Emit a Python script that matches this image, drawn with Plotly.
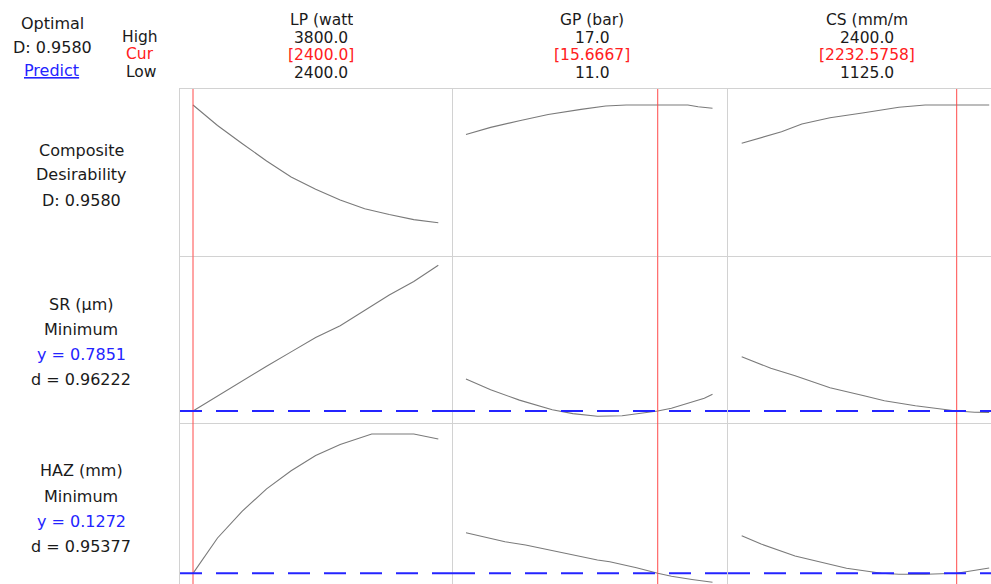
import plotly.graph_objects as go
from plotly.subplots import make_subplots

W, H = 991, 584

# ---- factor settings -------------------------------------------------------
factor_names = ["LP (watt", "GP (bar)", "CS (mm/m"]
high_labels = ["3800.0", "17.0", "2400.0"]
cur_labels = ["[2400.0]", "[15.6667]", "[2232.5758]"]
low_labels = ["2400.0", "11.0", "1125.0"]
cur_values = [2400.0, 15.6667, 2232.5758]

# ---- composite desirability traces ----------------------------------------
lp_for_D = [2400, 2540, 2680, 2820, 2960, 3100, 3240, 3380, 3520, 3660, 3800]
D_vs_lp = [0.958, 0.841, 0.738, 0.638, 0.547, 0.476, 0.415, 0.365, 0.332, 0.303, 0.285]
gp_for_D = [11.0, 11.6, 12.3, 13.0, 13.8, 14.4, 14.9, 15.6667, 16.4, 16.65, 17.0]
D_vs_gp = [0.789, 0.830, 0.868, 0.904, 0.933, 0.952, 0.958, 0.958, 0.958, 0.948, 0.939]
cs_for_D = [1125, 1225, 1330, 1435, 1580, 1755, 1935, 2070, 2232.5758, 2400]
D_vs_cs = [0.739, 0.771, 0.805, 0.849, 0.885, 0.914, 0.945, 0.958, 0.958, 0.958]

# ---- SR (um) traces --------------------------------------------------------
lp_for_SR = [2400, 2540, 2680, 2820, 2960, 3100, 3240, 3380, 3520, 3660, 3800]
SR_vs_lp = [0.7851, 0.974, 1.156, 1.344, 1.524, 1.703, 1.850, 2.043, 2.235, 2.403, 2.608]
gp_for_SR = [11.0, 11.6, 12.3, 13.1, 13.6, 14.2, 14.8, 15.6667, 16.0, 16.5, 16.8, 17.0]
SR_vs_gp = [1.185, 1.050, 0.921, 0.800, 0.752, 0.720, 0.726, 0.7851, 0.820, 0.902, 0.944, 0.994]
cs_for_SR = [1125, 1275, 1400, 1580, 1755, 1860, 2020, 2165, 2232.5758, 2325, 2400]
SR_vs_cs = [1.464, 1.319, 1.226, 1.076, 0.976, 0.914, 0.851, 0.800, 0.7851, 0.770, 0.768]

# ---- HAZ (mm) traces -------------------------------------------------------
lp_for_HAZ = [2400, 2540, 2680, 2820, 2960, 3100, 3240, 3380, 3420, 3660, 3800]
HAZ_vs_lp = [0.1272, 0.2155, 0.2822, 0.3382, 0.3837, 0.4217, 0.4495, 0.4700, 0.4755, 0.4755, 0.4630]
gp_for_HAZ = [11.0, 11.95, 12.45, 13.1, 13.55, 14.2, 14.5, 15.15, 15.6667, 16.0, 16.5, 17.0]
HAZ_vs_gp = [0.2287, 0.2062, 0.1980, 0.1840, 0.1755, 0.1605, 0.1560, 0.1412, 0.1272, 0.1197, 0.1117, 0.1047]
cs_for_HAZ = [1125, 1225, 1400, 1580, 1665, 1845, 1935, 2075, 2232.5758, 2400]
HAZ_vs_cs = [0.2212, 0.2005, 0.1705, 0.1505, 0.1397, 0.1272, 0.1247, 0.1247, 0.1272, 0.1405]

# ---- response summaries ----------------------------------------------------
optimal_D = "0.9580"
response_names = ["SR (µm)", "HAZ (mm)"]
response_goals = ["Minimum", "Minimum"]
response_y = [0.7851, 0.1272]
response_y_labels = ["0.7851", "0.1272"]
response_d_labels = ["0.96222", "0.95377"]

rows = [
    [(lp_for_D, D_vs_lp), (gp_for_D, D_vs_gp), (cs_for_D, D_vs_cs)],
    [(lp_for_SR, SR_vs_lp), (gp_for_SR, SR_vs_gp), (cs_for_SR, SR_vs_cs)],
    [(lp_for_HAZ, HAZ_vs_lp), (gp_for_HAZ, HAZ_vs_gp), (cs_for_HAZ, HAZ_vs_cs)],
]

# panel geometry (pixels of the 991 x 584 page)
col_px = [(180, 453), (453, 728), (728, 991)]
row_px = [(89, 256.5), (256.5, 424), (424, 584)]
x_ranges = [[2325.8, 3883.9], [10.684, 17.377], [1054.4, 2409.3]]
y_ranges = [[0.0923, 1.0494], [0.6226, 2.7164], [0.1005, 0.5005]]

BORDER = "#d2d2d2"
CURVE = "#7a7a7a"
RED = "#ff4a4a"
BLUE = "#2424ff"
TEXT = "#1a1a1a"
FONT = "DejaVu Sans"

fig = make_subplots(rows=3, cols=3, horizontal_spacing=0, vertical_spacing=0)

for r in range(3):
    for c in range(3):
        xs, ys = rows[r][c]
        fig.add_trace(
            go.Scatter(x=xs, y=ys, mode="lines",
                       line=dict(color=CURVE, width=1.1),
                       hoverinfo="skip", showlegend=False),
            row=r + 1, col=c + 1)
        fig.update_xaxes(
            domain=[col_px[c][0] / W, col_px[c][1] / W],
            range=x_ranges[c], showgrid=False, zeroline=False,
            showticklabels=False, ticks="", side="top",
            showline=True, linecolor=BORDER, linewidth=1,
            row=r + 1, col=c + 1)
        fig.update_yaxes(
            domain=[1 - row_px[r][1] / H, 1 - row_px[r][0] / H],
            range=y_ranges[r], showgrid=False, zeroline=False,
            showticklabels=False, ticks="", side="left",
            showline=True, linecolor=BORDER, linewidth=1,
            row=r + 1, col=c + 1)
        # current factor setting
        fig.add_vline(x=cur_values[c], line=dict(color=RED, width=1),
                      row=r + 1, col=c + 1)

# predicted response at the optimum
for i, yv in enumerate(response_y):
    for c in range(3):
        fig.add_hline(y=yv, line=dict(color=BLUE, width=2, dash="22px,14px"),
                      row=i + 2, col=c + 1)


def label(text, x_px, y_px, color=TEXT, size=16, box_h=None):
    fig.add_annotation(text=text, x=x_px / W, y=1 - y_px / H,
                       xref="paper", yref="paper", showarrow=False,
                       xanchor="center", yanchor="middle", borderpad=0,
                       height=box_h,
                       font=dict(family=FONT, size=size, color=color))


# top-left block
label("Optimal", 52, 24)
label("D: " + optimal_D, 52, 47)
label('<span style="text-decoration:underline">Predict</span>', 51, 70, color=BLUE)

HS = 15.5   # compact header lines
HB = 16.5
label("High", 140, 37.5, size=HS, box_h=HB)
label("Cur", 140, 55, color="#ff2020", size=HS, box_h=HB)
label("Low", 141, 72.5, size=HS, box_h=HB)

# factor headers
header_x = [321, 592, 867]
header_y = [20.5, 38.5, 56, 73.5]
for c in range(3):
    label(factor_names[c], header_x[c], header_y[0], size=HS, box_h=HB)
    label(high_labels[c], header_x[c], header_y[1], size=HS, box_h=HB)
    label(cur_labels[c], header_x[c], header_y[2], color="#ff2020", size=HS, box_h=HB)
    label(low_labels[c], header_x[c], header_y[3], size=HS, box_h=HB)

# row labels
label("Composite", 81, 150)
label("Desirability", 81, 175)
label("D: " + optimal_D, 81, 200)

row_label_y = [(304, 329, 354, 379), (470, 496, 521, 546)]
for i in range(2):
    y0, y1, y2, y3 = row_label_y[i]
    label(response_names[i], 81, y0)
    label(response_goals[i], 81, y1)
    label("y = " + response_y_labels[i], 81, y2, color=BLUE)
    label("d = " + response_d_labels[i], 81, y3)

fig.update_layout(
    width=W, height=H,
    margin=dict(l=0, r=0, t=0, b=0),
    paper_bgcolor="white", plot_bgcolor="white",
    showlegend=False,
    font=dict(family=FONT, color=TEXT),
)

fig.write_html("out.html")
